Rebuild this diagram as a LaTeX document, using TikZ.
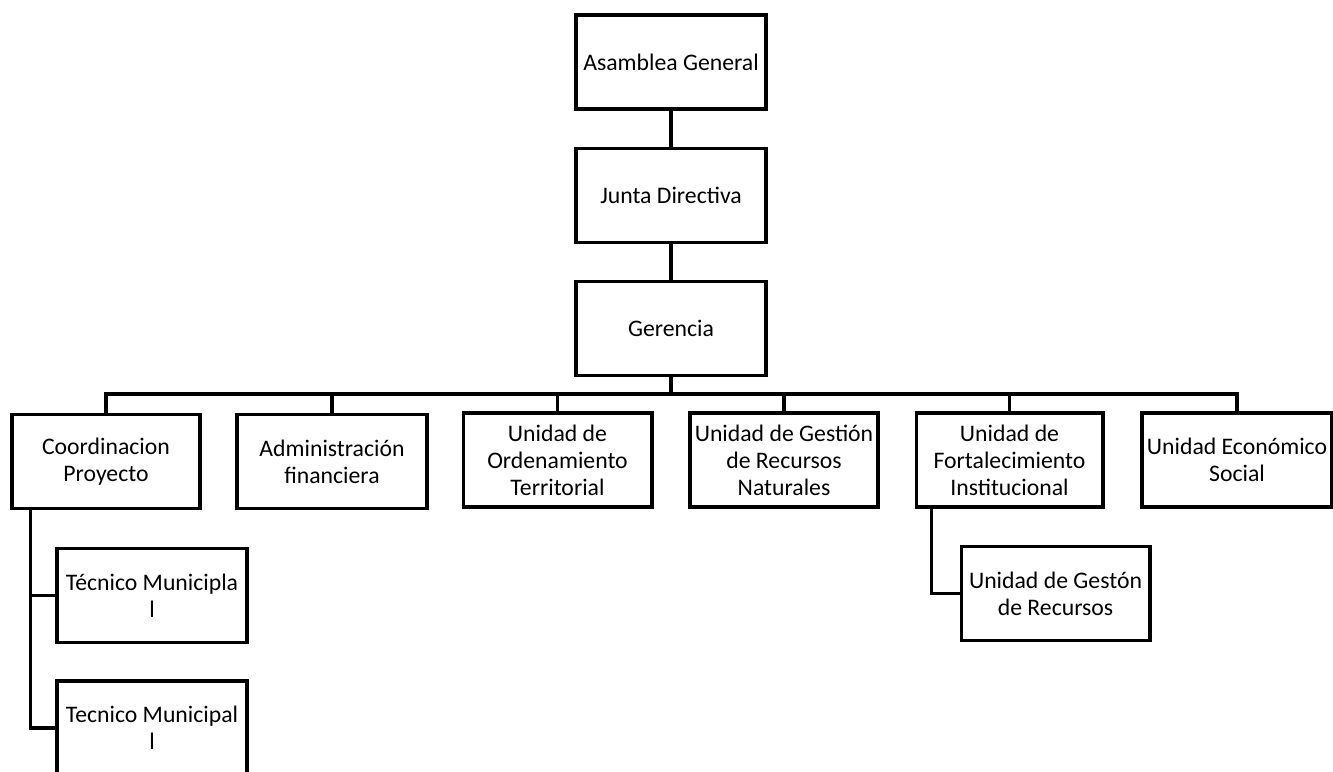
\documentclass[tikz,border=0pt]{standalone}
\usepackage{fontspec}
\setmainfont{Carlito}
\usetikzlibrary{positioning}

\begin{document}
\begin{tikzpicture}[x=0.75pt,y=-0.75pt,line width=2.5pt,
    caja/.style={draw,rectangle,minimum width=142.5pt,minimum height=70.5pt,inner sep=1pt,align=center,font=\fontsize{17.8}{20.3}\selectfont}]
  \useasboundingbox (0,0) rectangle (1333,771);
  \clip (0,0) rectangle (1333,771);

  % direccion
  \node[caja] (asamblea) at (671,62) {Asamblea General};
  \node[caja] (junta) at (671,195.5) {Junta Directiva};
  \node[caja] (gerencia) at (671,328.5) {Gerencia};

  % unidades
  \node[caja,minimum width=141pt] (coord) at (106,461.5) {Coordinacion\\Proyecto};
  \node[caja] (admin) at (332,461.5) {Administración\\financiera};
  \node[caja,minimum width=141.5pt] (orden) at (557.5,460) {Unidad de\\Ordenamiento\\Territorial};
  \node[caja,minimum width=141pt] (recnat) at (784,460) {Unidad de Gestión\\de Recursos\\Naturales};
  \node[caja,minimum width=140pt] (fortal) at (1009.5,460) {Unidad de\\Fortalecimiento\\Institucional};
  \node[caja] (econ) at (1237,460) {Unidad Económico\\Social};

  % subordinados
  \node[caja] (tec1) at (152,595.5) {Técnico Municipla\\l};
  \node[caja] (tec2) at (152,728) {Tecnico Municipal\\l};
  \node[caja,minimum width=141.5pt] (gesrec) at (1055.5,593.5) {Unidad de Gestón\\de Recursos};

  \coordinate (bus) at (671,394);
  \coordinate (cp) at ([xshift=15pt]coord.south west);
  \coordinate (fp) at ([xshift=12.75pt]fortal.south west);

  \draw (asamblea) -- (junta);
  \draw (junta) -- (gerencia);
  \foreach \u in {coord,admin,orden,recnat,fortal,econ}
    \draw (gerencia.south) -- (bus) -| (\u.north);
  \draw (cp) |- (tec1.west);
  \draw (cp) |- (tec2.west);
  \draw (fp) |- (gesrec.west);
\end{tikzpicture}
\end{document}
